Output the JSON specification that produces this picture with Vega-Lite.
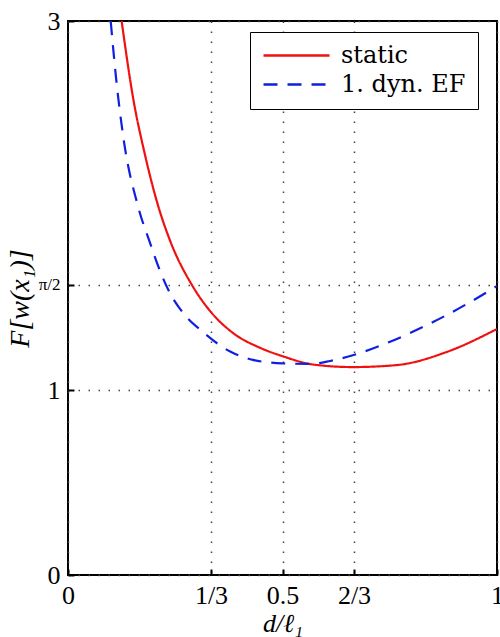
{
  "$schema": "https://vega.github.io/schema/vega-lite/v6.json",
  "width": 429,
  "height": 554,
  "autosize": "none",
  "padding": {"left": 68, "top": 21, "right": 3, "bottom": 62},
  "background": "white",
  "config": {
    "view": {"stroke": "black", "strokeWidth": 2},
    "font": "DejaVu Serif",
    "legend": {"labelFont": "DejaVu Serif", "labelFontSize": 24, "labelColor": "black"},
    "axis": {"domain": false, "labelFont": "Liberation Serif", "titleFont": "Liberation Serif", "labelColor": "black", "titleColor": "black", "titleFontWeight": "normal", "tickColor": "black", "tickWidth": 2, "gridColor": "#444", "gridDash": [1.5, 8.5], "gridWidth": 1.5}
  },
  "data": {
    "values": [
      {"x": 0.125, "F": 3.0, "s": "static"},
      {"x": 0.152, "F": 2.58, "s": "static"},
      {"x": 0.18, "F": 2.27, "s": "static"},
      {"x": 0.21, "F": 2.0, "s": "static"},
      {"x": 0.238, "F": 1.81, "s": "static"},
      {"x": 0.289, "F": 1.57, "s": "static"},
      {"x": 0.331, "F": 1.43, "s": "static"},
      {"x": 0.385, "F": 1.31, "s": "static"},
      {"x": 0.448, "F": 1.23, "s": "static"},
      {"x": 0.50, "F": 1.185, "s": "static"},
      {"x": 0.571, "F": 1.14, "s": "static"},
      {"x": 0.664, "F": 1.126, "s": "static"},
      {"x": 0.767, "F": 1.137, "s": "static"},
      {"x": 0.883, "F": 1.208, "s": "static"},
      {"x": 1.0, "F": 1.332, "s": "static"},
      {"x": 0.0995, "F": 3.0, "s": "1. dyn. EF"},
      {"x": 0.113, "F": 2.67, "s": "1. dyn. EF"},
      {"x": 0.129, "F": 2.37, "s": "1. dyn. EF"},
      {"x": 0.164, "F": 1.99, "s": "1. dyn. EF"},
      {"x": 0.191, "F": 1.80, "s": "1. dyn. EF"},
      {"x": 0.214, "F": 1.65, "s": "1. dyn. EF"},
      {"x": 0.238, "F": 1.525, "s": "1. dyn. EF"},
      {"x": 0.268, "F": 1.42, "s": "1. dyn. EF"},
      {"x": 0.315, "F": 1.315, "s": "1. dyn. EF"},
      {"x": 0.378, "F": 1.21, "s": "1. dyn. EF"},
      {"x": 0.431, "F": 1.165, "s": "1. dyn. EF"},
      {"x": 0.50, "F": 1.146, "s": "1. dyn. EF"},
      {"x": 0.564, "F": 1.143, "s": "1. dyn. EF"},
      {"x": 0.611, "F": 1.159, "s": "1. dyn. EF"},
      {"x": 0.664, "F": 1.19, "s": "1. dyn. EF"},
      {"x": 0.743, "F": 1.256, "s": "1. dyn. EF"},
      {"x": 0.851, "F": 1.37, "s": "1. dyn. EF"},
      {"x": 0.977, "F": 1.532, "s": "1. dyn. EF"},
      {"x": 1.0, "F": 1.565, "s": "1. dyn. EF"}
    ]
  },
  "layer": [
    {
      "mark": {"type": "line", "interpolate": "monotone", "strokeWidth": 2.2, "clip": true},
      "encoding": {
        "x": {
          "field": "x", "type": "quantitative",
          "scale": {"domain": [0, 1], "nice": false, "zero": false},
          "axis": {
            "values": [0, 0.3333333, 0.5, 0.6666667, 1],
            "labelExpr": "datum.value < 0.01 ? '0' : abs(datum.value-1/3) < 0.01 ? '1/3' : abs(datum.value-0.5) < 0.01 ? '0.5' : abs(datum.value-2/3) < 0.01 ? '2/3' : '1'",
            "labelFontSize": 26, "labelPadding": 13, "tickSize": -6, "labelFlush": false, "labelOverlap": false,
            "title": "d/ℓ₁", "titleFontSize": 26, "titleFontStyle": "italic", "titleY": 56, "titleBaseline": "alphabetic",
            "grid": true
          }
        },
        "y": {
          "field": "F", "type": "quantitative",
          "scale": {"domain": [0, 3], "nice": false, "zero": false},
          "axis": {
            "values": [0, 1, 1.5707963, 3],
            "labelExpr": "abs(datum.value-1.5708) < 0.01 ? 'π/2' : datum.label",
            "labelFontSize": {"condition": {"test": "abs(datum.value-1.5708) < 0.01", "value": 17}, "value": 26},
            "labelPadding": 14, "tickSize": -6, "labelFlush": false, "labelOverlap": false,
            "title": "F[w(x₁)]", "titleFontSize": 28, "titleFontStyle": "italic", "titleX": -34,
            "grid": true
          }
        },
        "color": {
          "field": "s", "type": "nominal",
          "scale": {"domain": ["static", "1. dyn. EF"], "range": ["#f01010", "#1020e0"]},
          "legend": {
            "title": null, "orient": "none", "legendX": 182, "legendY": 11,
            "symbolType": "stroke", "symbolSize": 4356, "symbolStrokeWidth": 2.5,
            "labelFont": "DejaVu Serif", "labelFontSize": 24, "labelOffset": 10, "clipHeight": 23,
            "fillColor": "white", "strokeColor": "black", "padding": 12, "rowPadding": 4
          }
        },
        "strokeDash": {
          "field": "s", "type": "nominal",
          "scale": {"domain": ["static", "1. dyn. EF"], "range": [[1, 0], [14, 10]]},
          "legend": null
        }
      }
    }
  ]
}
